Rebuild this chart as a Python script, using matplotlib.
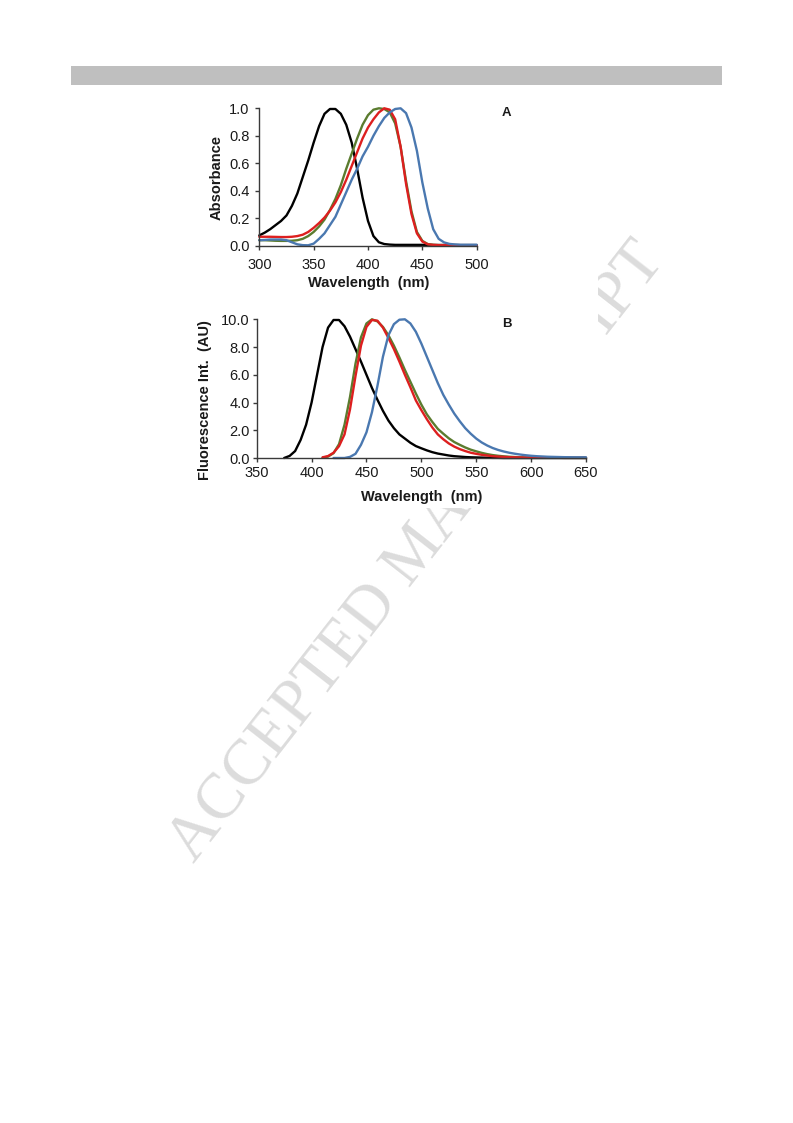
import numpy as np
import matplotlib
matplotlib.use("Agg")
import matplotlib.pyplot as plt
from matplotlib.patches import Rectangle
from matplotlib.ticker import FormatStrFormatter, MultipleLocator

plt.rcParams['font.family'] = ['Liberation Sans', 'DejaVu Sans']

nan = np.nan

# ---------------- Panel A: absorbance (5 nm grid, 300-500 nm) ----------------
wl_abs = list(range(300, 505, 5))
abs_black = [0.075, 0.095, 0.12, 0.15, 0.18, 0.22, 0.29, 0.38, 0.50, 0.62,
             0.75, 0.87, 0.96, 0.995, 0.995, 0.96, 0.88, 0.75, 0.56, 0.35,
             0.18, 0.07, 0.025, 0.012, 0.008, 0.006, 0.006, 0.006, 0.006, 0.006,
             0.006, 0.006, 0.005, 0.005, 0.005, 0.005, 0.005, 0.004, 0.004, 0.004, 0.004]
abs_green = [0.04, 0.04, 0.038, 0.036, 0.035, 0.035, 0.036, 0.04, 0.05, 0.07,
             0.10, 0.14, 0.19, 0.26, 0.34, 0.44, 0.56, 0.67, 0.78, 0.88,
             0.95, 0.99, 1.0, 0.995, 0.97, 0.89, 0.72, 0.47, 0.25, 0.10,
             0.035, 0.012, 0.006, 0.004, 0.004, 0.004, 0.004, 0.004, 0.004, 0.004, 0.004]
abs_red = [0.065, 0.065, 0.065, 0.064, 0.063, 0.063, 0.065, 0.07, 0.08, 0.10,
           0.13, 0.165, 0.205, 0.255, 0.315, 0.39, 0.48, 0.58, 0.68, 0.78,
           0.86, 0.92, 0.97, 1.0, 0.99, 0.92, 0.72, 0.45, 0.23, 0.09,
           0.03, 0.01, 0.006, 0.004, 0.004, 0.004, 0.004, 0.004, 0.004, 0.004, 0.004]
abs_blue = [0.04, 0.042, 0.045, 0.045, 0.045, 0.04, 0.025, 0.01, 0.004, 0.003,
            0.015, 0.05, 0.09, 0.15, 0.21, 0.30, 0.39, 0.48, 0.56, 0.65,
            0.72, 0.80, 0.87, 0.93, 0.97, 0.995, 1.0, 0.965, 0.86, 0.69,
            0.46, 0.27, 0.12, 0.05, 0.024, 0.013, 0.009, 0.007, 0.007, 0.007, 0.007]

# ---------------- Panel B: fluorescence (5 nm grid, 350-650 nm) ----------------
wl_fl = list(range(350, 655, 5))
fl_black = [nan, nan, nan, nan, nan, 0.0, 0.15, 0.5, 1.3, 2.4,
            4.0, 6.0, 8.0, 9.4, 9.95, 9.95, 9.5, 8.75, 7.85, 6.95,
            6.0, 5.05, 4.2, 3.4, 2.7, 2.15, 1.7, 1.4, 1.1, 0.86,
            0.7, 0.55, 0.42, 0.32, 0.25, 0.18, 0.13, 0.10, 0.07, 0.05,
            0.04, 0.03, 0.02, 0.01, 0.01, 0.0, 0.0, 0.0, 0.0, 0.0,
            0.0, 0.0, 0.0, 0.0, 0.0, 0.0, 0.0, 0.0, 0.0, 0.0, 0.0]
fl_green = [nan, nan, nan, nan, nan, nan, nan, nan, nan, nan,
            nan, nan, 0.02, 0.1, 0.35, 1.0, 2.4, 4.4, 6.8, 8.7,
            9.7, 10.0, 9.85, 9.45, 8.85, 8.1, 7.25, 6.35, 5.5, 4.65,
            3.85, 3.15, 2.6, 2.1, 1.75, 1.42, 1.15, 0.95, 0.76, 0.6,
            0.48, 0.37, 0.28, 0.21, 0.16, 0.12, 0.09, 0.07, 0.05, 0.04,
            0.03, 0.025, 0.02, 0.02, 0.015, 0.015, 0.01, 0.01, 0.01, 0.01, 0.01]
fl_red = [nan, nan, nan, nan, nan, nan, nan, nan, nan, nan,
          nan, nan, 0.05, 0.14, 0.38, 0.85, 1.7, 3.5, 5.9, 8.1,
          9.45, 9.95, 9.9, 9.4, 8.65, 7.85, 6.95, 6.0, 5.1, 4.15,
          3.45, 2.8, 2.2, 1.7, 1.35, 1.05, 0.82, 0.64, 0.5, 0.38,
          0.3, 0.23, 0.18, 0.13, 0.1, 0.08, 0.06, 0.05, 0.04, 0.035,
          0.03, 0.025, 0.02, 0.02, 0.015, 0.015, 0.01, 0.01, 0.01, 0.01, 0.01]
fl_blue = [nan, nan, nan, nan, nan, nan, nan, nan, nan, nan,
           nan, nan, nan, nan, 0.0, 0.0, 0.0, 0.08, 0.3, 0.95,
           1.85, 3.3, 5.2, 7.3, 8.85, 9.65, 9.97, 10.0, 9.7, 9.1,
           8.25, 7.3, 6.35, 5.4, 4.55, 3.85, 3.2, 2.65, 2.15, 1.75,
           1.4, 1.12, 0.9, 0.72, 0.58, 0.47, 0.38, 0.31, 0.25, 0.2,
           0.16, 0.13, 0.11, 0.09, 0.08, 0.07, 0.06, 0.055, 0.05, 0.05, 0.05]

series_colors = ['#000000', '#5b7c2f', '#dd1f1f', '#4a78b0']

W, H = 793, 1123
fig = plt.figure(figsize=(W / 100, H / 100), dpi=100)


def fx(px):
    return px / W


def fy(py):
    return 1 - py / H


# header bar
fig.patches.append(Rectangle((fx(71), fy(85)), (722 - 71) / W, 19 / H,
                             transform=fig.transFigure, facecolor='#bfbfbf',
                             edgecolor='none', zorder=1))

# watermark
fig.text(fx(194), fy(864), 'ACCEPTED MANUSCRIPT', family=['Liberation Serif', 'DejaVu Serif'],
         fontsize=46.5, color='#dcdcdc', rotation=52.0, rotation_mode='anchor',
         ha='left', va='baseline', zorder=-3)
# chart image backgrounds hiding part of the watermark
fig.patches.append(Rectangle((fx(195), fy(508)), (607 - 195) / W, (508 - 335) / H,
                             transform=fig.transFigure, facecolor='white',
                             edgecolor='none', zorder=-2))
fig.patches.append(Rectangle((fx(195), fy(336)), (598 - 195) / W, (336 - 95) / H,
                             transform=fig.transFigure, facecolor='white',
                             edgecolor='none', zorder=-2))

spine_col = '#3a3a3a'
tick_fs = 10.5
lab_fs = 10.5


def style(ax, xpad, ypad):
    for s in ('top', 'right'):
        ax.spines[s].set_visible(False)
    for s in ('left', 'bottom'):
        ax.spines[s].set_color(spine_col)
        ax.spines[s].set_linewidth(1.0)
    ax.set_facecolor('none')
    ax.tick_params(axis='both', direction='out', length=3, width=1.0,
                   color=spine_col, labelsize=tick_fs, labelcolor='#1a1a1a')
    ax.tick_params(axis='x', pad=xpad)
    ax.tick_params(axis='y', pad=ypad)
    ax.yaxis.set_major_formatter(FormatStrFormatter('%.1f'))


# ---------- Panel A ----------
axA = fig.add_axes([fx(259.3), fy(245.7), 217.4 / W, 137.4 / H])
for vals, c in zip([abs_black, abs_green, abs_red, abs_blue], series_colors):
    axA.plot(wl_abs, vals, color=c, lw=1.7, clip_on=False, solid_capstyle='round')
axA.set_xlim(300, 500)
axA.set_ylim(0, 1.0)
axA.xaxis.set_major_locator(MultipleLocator(50))
axA.yaxis.set_major_locator(MultipleLocator(0.2))
style(axA, 5.5, 4)
fig.text(fx(369), fy(283.5), 'Wavelength  (nm)', fontsize=lab_fs, fontweight='bold',
         ha='center', va='center', color='#1a1a1a')
fig.text(fx(216.5), fy(178), 'Absorbance', fontsize=lab_fs, fontweight='bold',
         ha='center', va='center', rotation=90, color='#1a1a1a')
fig.text(fx(506), fy(113), 'A', fontsize=9.5, fontweight='bold',
         ha='center', va='center', color='#1a1a1a')

# ---------- Panel B ----------
axB = fig.add_axes([fx(256.7), fy(458), 329.3 / W, 138.7 / H])
for vals, c in zip([fl_black, fl_green, fl_red, fl_blue], series_colors):
    axB.plot(wl_fl, vals, color=c, lw=1.7, clip_on=False, solid_capstyle='round')
axB.set_xlim(350, 650)
axB.set_ylim(0, 10.0)
axB.xaxis.set_major_locator(MultipleLocator(50))
axB.yaxis.set_major_locator(MultipleLocator(2.0))
style(axB, 3, 2)
fig.text(fx(421.7), fy(496.7), 'Wavelength  (nm)', fontsize=lab_fs, fontweight='bold',
         ha='center', va='center', color='#1a1a1a')
fig.text(fx(205), fy(400), 'Fluorescence Int.  (AU)', fontsize=lab_fs, fontweight='bold',
         ha='center', va='center', rotation=90, color='#1a1a1a')
fig.text(fx(506.7), fy(324), 'B', fontsize=9.5, fontweight='bold',
         ha='center', va='center', color='#1a1a1a')

fig.savefig('out.png', dpi=100)
